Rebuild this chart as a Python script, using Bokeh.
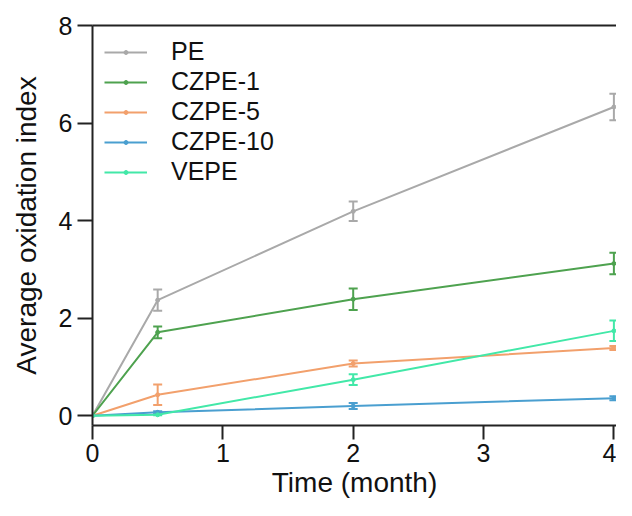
from bokeh.plotting import figure
from bokeh.models import ColumnDataSource, Whisker, TeeHead, LinearAxis, FixedTicker, Range1d
from bokeh.embed import file_html
from bokeh.resources import INLINE

time_months = [0, 0.5, 2, 4]
series_names = ["PE", "CZPE-1", "CZPE-5", "CZPE-10", "VEPE"]
pe = [0, 2.37, 4.19, 6.33]
pe_err = [0, 0.22, 0.20, 0.27]
czpe1 = [0, 1.71, 2.39, 3.12]
czpe1_err = [0, 0.12, 0.22, 0.22]
czpe5 = [0, 0.43, 1.07, 1.39]
czpe5_err = [0, 0.21, 0.06, 0.04]
czpe10 = [0, 0.07, 0.20, 0.36]
czpe10_err = [0, 0.02, 0.06, 0.04]
vepe = [0, 0.02, 0.74, 1.74]
vepe_err = [0, 0.01, 0.11, 0.21]
x_ticks = [0, 1, 2, 3, 4]
y_ticks = [0, 2, 4, 6, 8]

colors = ["#a9a9a9", "#4ea24f", "#f2a06c", "#4a9fd0", "#42e8a8"]
values = [pe, czpe1, czpe5, czpe10, vepe]
errors = [pe_err, czpe1_err, czpe5_err, czpe10_err, vepe_err]

FONT = "Liberation Sans"

p = figure(width=616, height=500, output_backend="svg", toolbar_location=None,
           x_range=Range1d(0, 4.02), y_range=Range1d(-0.2, 8),
           min_border_left=92, min_border_right=0, min_border_top=25, min_border_bottom=73)
p.outline_line_color = None
p.xgrid.grid_line_color = None
p.ygrid.grid_line_color = None
p.background_fill_color = "white"
p.border_fill_color = "white"

for name, vals, errs, col in zip(series_names, values, errors, colors):
    lower = [v - e for v, e in zip(vals, errs)]
    upper = [v + e for v, e in zip(vals, errs)]
    src = ColumnDataSource(dict(x=time_months, y=vals, lower=lower, upper=upper))
    p.line("x", "y", source=src, line_color=col, line_width=2, legend_label=name)
    p.scatter("x", "y", source=src, size=4, color=col, legend_label=name)
    wsrc = ColumnDataSource(dict(x=time_months[1:], lower=lower[1:], upper=upper[1:]))
    w = Whisker(base="x", lower="lower", upper="upper", source=wsrc,
                line_color=col, line_width=2,
                upper_head=TeeHead(size=9, line_color=col, line_width=2),
                lower_head=TeeHead(size=9, line_color=col, line_width=2))
    p.add_layout(w)

for ax in [p.xaxis[0], p.yaxis[0]]:
    ax.axis_line_width = 2
    ax.axis_line_color = "#222222"
    ax.major_tick_line_width = 2
    ax.major_tick_line_color = "#222222"
    ax.minor_tick_line_color = None
    ax.major_tick_in = 0
    ax.major_label_text_font = FONT
    ax.major_label_text_font_size = "25px"
    ax.major_label_text_color = "#111111"
    ax.axis_label_text_font = FONT
    ax.axis_label_text_font_style = "normal"
    ax.axis_label_text_color = "#111111"
    ax.axis_label_text_font_size = "28px"

p.xaxis[0].ticker = FixedTicker(ticks=x_ticks)
p.yaxis[0].ticker = FixedTicker(ticks=y_ticks)
p.xaxis[0].major_tick_out = 14
p.yaxis[0].major_tick_out = 15
p.xaxis[0].major_label_standoff = 4
p.yaxis[0].major_label_standoff = 5
p.xaxis[0].axis_label = "Time (month)"
p.yaxis[0].axis_label = "Average oxidation index"
p.xaxis[0].axis_label_standoff = 2
p.yaxis[0].axis_label_standoff = 14

top = LinearAxis(ticker=FixedTicker(ticks=[]), major_label_text_font_size="0px",
                 axis_line_width=2, axis_line_color="#222222",
                 major_tick_line_color=None, minor_tick_line_color=None)
p.add_layout(top, "above")

lg = p.legend[0]
lg.location = "top_left"
lg.margin = 12
lg.padding = 12
lg.spacing = 1
lg.glyph_width = 43
lg.glyph_height = 10
lg.label_height = 28
lg.label_standoff = 24
lg.label_text_font = FONT
lg.label_text_font_size = "25px"
lg.label_text_color = "#111111"
lg.border_line_color = None
lg.background_fill_alpha = 0

open("out.html", "w").write(file_html(p, INLINE))
